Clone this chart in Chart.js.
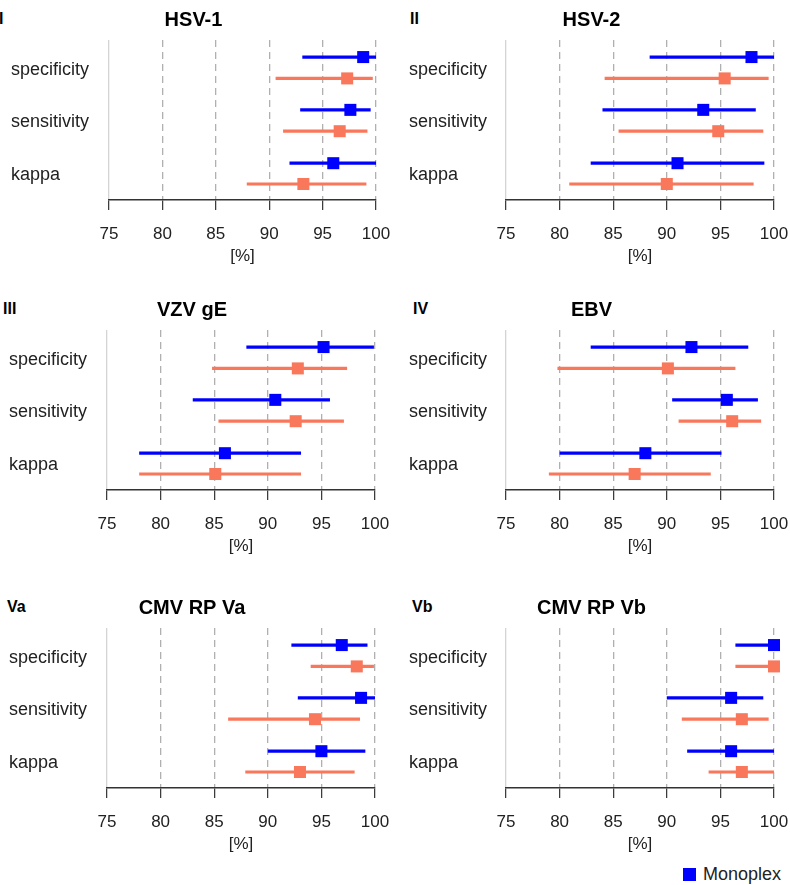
<!DOCTYPE html>
<html>
<head>
<meta charset="utf-8">
<script src="https://cdn.jsdelivr.net/npm/chart.js@4"></script>
<style>
  body { margin: 0; background: #fff; width: 790px; height: 885px; overflow: hidden; position: relative; font-family: "Liberation Sans", Arial, Helvetica, sans-serif; }
  canvas { position: absolute; }
  .tag { position: absolute; font-weight: bold; font-size: 16px; line-height: 20px; color: #000; }
  .legend { position: absolute; left: 683px; top: 864px; font-size: 18px; line-height: 20px; color: #222; }
  .legend span { display: inline-block; width: 13px; height: 13px; background: #0000ff; margin-right: 7px; vertical-align: -1px; }
</style>
</head>
<body>
<div class="tag" style="left:-1px;top:9px">I</div>
<div class="tag" style="left:410px;top:9px">II</div>
<div class="tag" style="left:3px;top:299px">III</div>
<div class="tag" style="left:413px;top:299px">IV</div>
<div class="tag" style="left:7px;top:597px">Va</div>
<div class="tag" style="left:412px;top:597px">Vb</div>
<div class="legend"><span></span>Monoplex</div>

<canvas id="p1" width="395" height="270" style="left:0;top:0"></canvas>
<canvas id="p2" width="395" height="270" style="left:395px;top:0"></canvas>
<canvas id="p3" width="395" height="270" style="left:0;top:290px"></canvas>
<canvas id="p4" width="395" height="270" style="left:395px;top:290px"></canvas>
<canvas id="p5" width="395" height="270" style="left:0;top:588px"></canvas>
<canvas id="p6" width="395" height="270" style="left:395px;top:588px"></canvas>

<script>
// data: [lower, estimate, upper] per metric
const metrics = ['specificity', 'sensitivity', 'kappa'];
const xTicks = [75, 80, 85, 90, 95, 100];
const panelTitles = ['HSV-1', 'HSV-2', 'VZV gE', 'EBV', 'CMV RP Va', 'CMV RP Vb'];

const hsv1Mono  = [[93.1, 98.8, 100], [92.9, 97.6, 99.5], [91.9, 96.0, 100]];
const hsv1Multi = [[90.6, 97.3, 99.7], [91.3, 96.6, 99.2], [87.9, 93.2, 99.1]];
const hsv2Mono  = [[88.4, 97.9, 100], [84.0, 93.4, 98.3], [82.9, 91.0, 99.1]];
const hsv2Multi = [[84.2, 95.4, 99.5], [85.5, 94.8, 99.0], [80.9, 90.0, 98.1]];
const vzvMono   = [[88.0, 95.2, 99.9], [83.0, 90.7, 95.8], [78.0, 86.0, 93.1]];
const vzvMulti  = [[84.8, 92.8, 97.4], [85.4, 92.6, 97.1], [78.0, 85.1, 93.1]];
const ebvMono   = [[82.9, 92.3, 97.6], [90.5, 95.6, 98.5], [80.0, 88.0, 95.1]];
const ebvMulti  = [[79.8, 90.1, 96.4], [91.1, 96.1, 98.8], [79.0, 87.0, 94.1]];
const cmvVaMono  = [[92.2, 96.9, 99.3], [92.8, 98.7, 100], [90.0, 95.0, 99.1]];
const cmvVaMulti = [[94.0, 98.3, 99.9], [86.3, 94.4, 98.6], [87.9, 93.0, 98.1]];
const cmvVbMono  = [[96.4, 100, 100], [90.0, 96.0, 99.0], [91.9, 96.0, 100]];
const cmvVbMulti = [[96.4, 100, 100], [91.4, 97.0, 99.5], [93.9, 97.0, 100]];

// vertical slots on the y scale (0..15)
const monoRowY = [13.4, 8.45, 3.45];
const multiRowY = [11.4, 6.45, 1.5];
const labelY = [12.2, 7.3, 2.3];

const MONO_COLOR = '#0000ff';
const MULTI_COLOR = '#f9775b';
const FONT = '"Liberation Sans", Arial, Helvetica, sans-serif';

function buildDatasets(mono, multi) {
    var datasets = [];
    [[mono, MONO_COLOR, monoRowY], [multi, MULTI_COLOR, multiRowY]].forEach(function(s) {
        var rows = s[0], color = s[1], ys = s[2];
        rows.forEach(function(r, i) {
            datasets.push({
                data: [{x: r[0], y: ys[i]}, {x: r[2], y: ys[i]}],
                borderColor: color,
                borderWidth: 3.2,
                pointRadius: 0,
                clip: false,
                order: 2
            });
        });
        datasets.push({
            data: rows.map(function(r, i) { return {x: r[1], y: ys[i]}; }),
            showLine: false,
            pointStyle: 'rect',
            pointRadius: 8.5,
            pointBackgroundColor: color,
            pointBorderWidth: 0,
            borderColor: color,
            clip: false,
            order: 1
        });
    });
    return datasets;
}

function makePanel(id, title, mono, multi, box) {
    new Chart(document.getElementById(id), {
        type: 'line',
        data: { datasets: buildDatasets(mono, multi) },
        options: {
            responsive: false,
            animation: false,
            events: [],
            layout: { padding: { left: box.labelLeft, right: 395 - box.areaRight, top: 0, bottom: 0 } },
            plugins: {
                legend: { display: false },
                tooltip: { enabled: false },
                title: {
                    display: true,
                    text: title,
                    color: '#000',
                    font: { family: FONT, size: 20, weight: 'bold' },
                    padding: { top: 8, bottom: 8 }
                }
            },
            scales: {
                x: {
                    type: 'linear',
                    min: 75,
                    max: 100,
                    afterBuildTicks: function(axis) {
                        axis.ticks = xTicks.map(function(v) { return {value: v}; });
                    },
                    afterFit: function(axis) {
                        axis.height = 70;
                        // let the layout padding decide the plot edges
                        axis.paddingLeft = 0;
                        axis.paddingRight = 0;
                    },
                    ticks: { color: '#222', font: { family: FONT, size: 17 }, padding: 14, maxRotation: 0 },
                    grid: {
                        color: function(ctx) { return ctx.index === 0 ? '#d4d4d4' : '#b0b0b0'; },
                        lineWidth: 1.3,
                        tickColor: '#333',
                        tickLength: 10,
                        tickWidth: 1.2
                    },
                    border: {
                        display: true,
                        color: '#333',
                        width: 1.5,
                        dash: function(ctx) { return ctx.index === 0 ? [] : [7, 5]; }
                    },
                    title: {
                        display: true,
                        text: '[%]',
                        color: '#222',
                        font: { family: FONT, size: 17 },
                        padding: { top: 0, bottom: 3 }
                    }
                },
                y: {
                    type: 'linear',
                    min: 0,
                    max: 15,
                    afterBuildTicks: function(axis) {
                        axis.ticks = labelY.map(function(v) { return {value: v}; });
                    },
                    afterFit: function(axis) { axis.width = box.areaLeft - box.labelLeft; },
                    ticks: {
                        crossAlign: 'far',
                        padding: 0,
                        color: '#222',
                        font: { family: FONT, size: 18 },
                        callback: function(value) { return metrics[labelY.indexOf(value)]; }
                    },
                    grid: { display: false },
                    border: { display: false }
                }
            }
        }
    });
}

var leftBox = { labelLeft: 11, areaLeft: 109, areaRight: 376 };
var leftBoxLow = { labelLeft: 9, areaLeft: 107, areaRight: 375 };
var rightBox = { labelLeft: 14, areaLeft: 111, areaRight: 379 };

makePanel('p1', panelTitles[0], hsv1Mono, hsv1Multi, leftBox);
makePanel('p2', panelTitles[1], hsv2Mono, hsv2Multi, rightBox);
makePanel('p3', panelTitles[2], vzvMono, vzvMulti, leftBoxLow);
makePanel('p4', panelTitles[3], ebvMono, ebvMulti, rightBox);
makePanel('p5', panelTitles[4], cmvVaMono, cmvVaMulti, leftBoxLow);
makePanel('p6', panelTitles[5], cmvVbMono, cmvVbMulti, rightBox);
</script>
</body>
</html>
